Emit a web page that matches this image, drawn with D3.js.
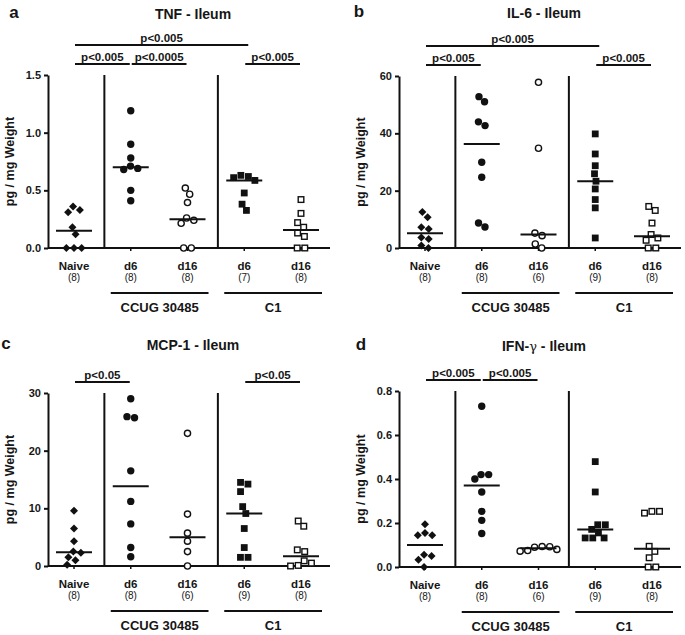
<!DOCTYPE html>
<html>
<head>
<meta charset="utf-8">
<script src="https://cdn.jsdelivr.net/npm/d3@7"></script>
<style>
  body { margin: 0; background: #fff; }
  text { font-family: "Liberation Sans", Arial, sans-serif; fill: #161616; }
</style>
</head>
<body>
<svg id="chart" width="685" height="635"></svg>
<script>
// categories (x) and the two infection groups under them
var catNames = ["Naive", "d6", "d16", "d6", "d16"];
var groupNames = ["CCUG 30485", "C1"];
var groupSpans = [[1, 2], [3, 4]];
var shapes = ["diamond", "circle", "circleOpen", "square", "squareOpen"];

// values, one array per column: Naive, CCUG d6, CCUG d16, C1 d6, C1 d16
var tnf = [
  [0.36, 0.31, 0.33, 0.18, 0.12, 0, 0, 0],
  [1.19, 0.90, 0.78, 0.71, 0.68, 0.69, 0.50, 0.41],
  [0.52, 0.466, 0.394, 0.24, 0.214, 0.26, 0, 0],
  [0.62, 0.586, 0.61, 0.63, 0.477, 0.38, 0.326],
  [0.42, 0.30, 0.22, 0.18, 0.13, 0.10, 0, 0]
];
var il6 = [
  [12.6, 10.7, 6.6, 7.2, 3.7, 3.1, 0, 0.9],
  [51.0, 52.8, 44.0, 42.7, 29.9, 24.7, 7.3, 8.7],
  [57.8, 34.8, 5.2, 4.3, 1.4, 0],
  [39.8, 32.8, 28.7, 25.9, 23.3, 20.6, 16.9, 14.0, 3.5],
  [14.5, 13.1, 8.7, 4.7, 2.7, 3.5, 0, 0]
];
var mcp1 = [
  [9.6, 6.5, 4.3, 2.5, 2.3, 1.5, 1.0, 0.2],
  [29.0, 25.9, 25.7, 16.5, 11.2, 7.3, 3.2, 1.6],
  [23.0, 9.0, 5.7, 4.3, 2.5, 0],
  [14.5, 14.2, 12.9, 10.3, 9.1, 6.5, 3.2, 1.5, 1.5],
  [7.8, 6.9, 2.8, 2.5, 0.9, 0.5, 0.1, 0]
];
var ifng = [
  [0.194, 0.155, 0.144, 0.144, 0.056, 0.05, 0.033, 0],
  [0.731, 0.42, 0.40, 0.42, 0.341, 0.253, 0.212, 0.152],
  [0.093, 0.080, 0.072, 0.075, 0.090, 0.092],
  [0.479, 0.341, 0.192, 0.192, 0.171, 0.155, 0.132, 0.132, 0.132],
  [0.253, 0.245, 0.253, 0.094, 0.071, 0.042, 0, 0]
];

// y ticks
var tnfTicks = [0, 0.5, 1.0, 1.5];
var il6Ticks = [0, 20, 40, 60];
var mcp1Ticks = [0, 10, 20, 30];
var ifngTicks = [0, 0.2, 0.4, 0.6, 0.8];

// significance bars: [from column, to column, label, row]
var tnfSig = [[0, 3, "p<0.005", 0], [0, 1, "p<0.005", 1], [1, 2, "p<0.0005", 1], [3, 4, "p<0.005", 1]];
var il6Sig = [[0, 3, "p<0.005", 0], [0, 1, "p<0.005", 1], [3, 4, "p<0.005", 1]];
var mcp1Sig = [[0, 1, "p<0.05", 1], [3, 4, "p<0.05", 1]];
var ifngSig = [[0, 1, "p<0.005", 1], [1, 2, "p<0.005", 1]];

var panels = [
  {letter: "a", title: "TNF - Ileum", values: tnf, ticks: tnfTicks, fmt: ".1f", sig: tnfSig,
    x0: 48, top: 75, bottom: 248, lx: 14, ly: 12},
  {letter: "b", title: "IL-6 - Ileum", values: il6, ticks: il6Ticks, fmt: "d", sig: il6Sig,
    x0: 399, top: 76, bottom: 248, lx: 359, ly: 11},
  {letter: "c", title: "MCP-1 - Ileum", values: mcp1, ticks: mcp1Ticks, fmt: "d", sig: mcp1Sig,
    x0: 48, top: 393, bottom: 566, lx: 6, ly: 343},
  {letter: "d", title: "IFN-γ - Ileum", values: ifng, ticks: ifngTicks, fmt: ".1f", sig: ifngSig,
    x0: 399, top: 391, bottom: 567, lx: 361, ly: 344}
];

var svg = d3.select("#chart");
svg.append("rect").attr("width", 685).attr("height", 635).attr("fill", "#fff");

var ink = "#111";
var spread = 7.6; // distance between neighbouring markers in a swarm

// simple column-scatter layout: points that touch vertically are spread sideways
function swarm(vals, y) {
  var pts = vals.map(function (v) { return {v: v, py: y(v)}; })
    .sort(function (a, b) { return a.py - b.py; });
  var clusters = [], cur = [];
  pts.forEach(function (p) {
    if (cur.length && p.py - cur[cur.length - 1].py >= spread) { clusters.push(cur); cur = []; }
    cur.push(p);
  });
  if (cur.length) clusters.push(cur);

  clusters.forEach(function (c) {
    var placed = [];
    c.forEach(function (p) {
      var cands = [0];
      placed.forEach(function (q) {
        var dy = Math.abs(p.py - q.py);
        if (dy < spread) {
          var dx = Math.sqrt(spread * spread - dy * dy);
          cands.push(q.dx + dx, q.dx - dx);
        }
      });
      cands.sort(function (a, b) { return (Math.abs(a) - Math.abs(b)) || (b - a); });
      p.dx = cands.find(function (x) {
        return placed.every(function (q) { return Math.hypot(x - q.dx, p.py - q.py) >= spread - 1e-6; });
      });
      placed.push(p);
    });
    var mid = (d3.min(c, function (p) { return p.dx; }) + d3.max(c, function (p) { return p.dx; })) / 2;
    c.forEach(function (p) { p.dx -= mid; });
  });
  return pts;
}

function drawMarker(g, shape, cx, cy) {
  if (shape === "circle") {
    g.append("circle").attr("cx", cx).attr("cy", cy).attr("r", 3.7).attr("fill", ink);
  } else if (shape === "circleOpen") {
    g.append("circle").attr("cx", cx).attr("cy", cy).attr("r", 3.1)
      .attr("fill", "#fff").attr("stroke", ink).attr("stroke-width", 1.4);
  } else if (shape === "square") {
    g.append("rect").attr("x", cx - 3.4).attr("y", cy - 3.4).attr("width", 6.8).attr("height", 6.8).attr("fill", ink);
  } else if (shape === "squareOpen") {
    g.append("rect").attr("x", cx - 2.8).attr("y", cy - 2.8).attr("width", 5.6).attr("height", 5.6)
      .attr("fill", "#fff").attr("stroke", ink).attr("stroke-width", 1.4);
  } else {
    g.append("path").attr("d", "M" + cx + "," + (cy - 4) + "L" + (cx + 4) + "," + cy + "L" + cx + "," + (cy + 4) + "L" + (cx - 4) + "," + cy + "Z")
      .attr("fill", ink);
  }
}

panels.forEach(function (p) {
  var g = svg.append("g");
  var xEnd = p.x0 + 282;

  var x = d3.scalePoint().domain(d3.range(catNames.length)).range([p.x0 + 26, p.x0 + 253]);
  var y = d3.scaleLinear().domain([0, d3.max(p.ticks)]).range([p.bottom, p.top]);

  // panel letter and title
  g.append("text").attr("x", p.lx).attr("y", p.ly + 6).attr("text-anchor", "middle")
    .attr("font-size", 17).attr("font-weight", "bold").text(p.letter);
  var t = g.append("text").attr("x", p.x0 + 145).attr("y", p.ly + 7).attr("text-anchor", "middle")
    .attr("font-size", 14).attr("font-weight", "bold");
  if (p.title.indexOf("γ") >= 0) {
    var parts = p.title.split("γ");
    t.append("tspan").text(parts[0]);
    t.append("tspan").attr("font-weight", "normal").attr("font-family", "DejaVu Serif").attr("font-size", 13).text("γ");
    t.append("tspan").text(parts[1]);
  } else {
    t.text(p.title);
  }

  // y axis
  var yAxis = g.append("g").attr("transform", "translate(" + p.x0 + ",0)")
    .call(d3.axisLeft(y).tickValues(p.ticks).tickFormat(d3.format(p.fmt)).tickSize(4).tickSizeOuter(0).tickPadding(3));
  yAxis.select(".domain").attr("stroke", ink).attr("stroke-width", 2);
  yAxis.selectAll(".tick line").attr("stroke", ink).attr("stroke-width", 2);
  yAxis.selectAll(".tick text").attr("font-size", 11).attr("font-weight", "bold")
    .attr("font-family", "Liberation Sans, Arial, sans-serif").attr("fill", "#161616");

  g.append("text").attr("transform", "translate(" + (p.x0 - 34) + "," + ((p.top + p.bottom) / 2) + ") rotate(-90)")
    .attr("text-anchor", "middle").attr("font-size", 12.5).attr("font-weight", "bold").text("pg / mg Weight");

  // x axis line and small category ticks
  g.append("line").attr("x1", p.x0).attr("x2", xEnd).attr("y1", p.bottom).attr("y2", p.bottom)
    .attr("stroke", ink).attr("stroke-width", 2);
  catNames.forEach(function (c, i) {
    g.append("line").attr("x1", x(i)).attr("x2", x(i)).attr("y1", p.bottom).attr("y2", p.bottom + 3)
      .attr("stroke", ink).attr("stroke-width", 1.5);
  });

  // separators between the naive, CCUG and C1 columns
  [[0, 1], [2, 3]].forEach(function (pair) {
    var sx = (x(pair[0]) + x(pair[1])) / 2 + 2;
    g.append("line").attr("x1", sx).attr("x2", sx).attr("y1", p.top).attr("y2", p.bottom)
      .attr("stroke", ink).attr("stroke-width", 2);
  });

  // category labels with n
  catNames.forEach(function (c, i) {
    g.append("text").attr("x", x(i)).attr("y", p.bottom + 22).attr("text-anchor", "middle")
      .attr("font-size", 11.5).attr("font-weight", "bold").text(c);
    g.append("text").attr("x", x(i)).attr("y", p.bottom + 33).attr("text-anchor", "middle")
      .attr("font-size", 10).text("(" + p.values[i].length + ")");
  });

  // group underlines and names
  groupNames.forEach(function (name, k) {
    var a = x(groupSpans[k][0]) - 20, b = x(groupSpans[k][1]) + 21;
    g.append("line").attr("x1", a).attr("x2", b).attr("y1", p.bottom + 45).attr("y2", p.bottom + 45)
      .attr("stroke", ink).attr("stroke-width", 2);
    g.append("text").attr("x", (a + b) / 2).attr("y", p.bottom + 64).attr("text-anchor", "middle")
      .attr("font-size", 13).attr("font-weight", "bold").text(name);
  });

  // significance bars
  p.sig.forEach(function (s) {
    var by = s[3] === 0 ? p.top - 30 : p.top - 11;
    var a = x(s[0]) + 1, b = x(s[1]) + (s[3] === 0 ? 4 : -1);
    g.append("line").attr("x1", a).attr("x2", b).attr("y1", by).attr("y2", by)
      .attr("stroke", ink).attr("stroke-width", 2);
    g.append("text").attr("x", (a + b) / 2).attr("y", by - 3.5).attr("text-anchor", "middle")
      .attr("font-size", 11.5).attr("font-weight", "bold").text(s[2]);
  });

  // points and median lines
  p.values.forEach(function (vals, i) {
    swarm(vals, y).forEach(function (pt) {
      drawMarker(g, shapes[i], x(i) + pt.dx, pt.py);
    });
    var m = y(d3.median(vals));
    g.append("line").attr("x1", x(i) - 18).attr("x2", x(i) + 18).attr("y1", m).attr("y2", m)
      .attr("stroke", ink).attr("stroke-width", 2);
  });
});
</script>
</body>
</html>
